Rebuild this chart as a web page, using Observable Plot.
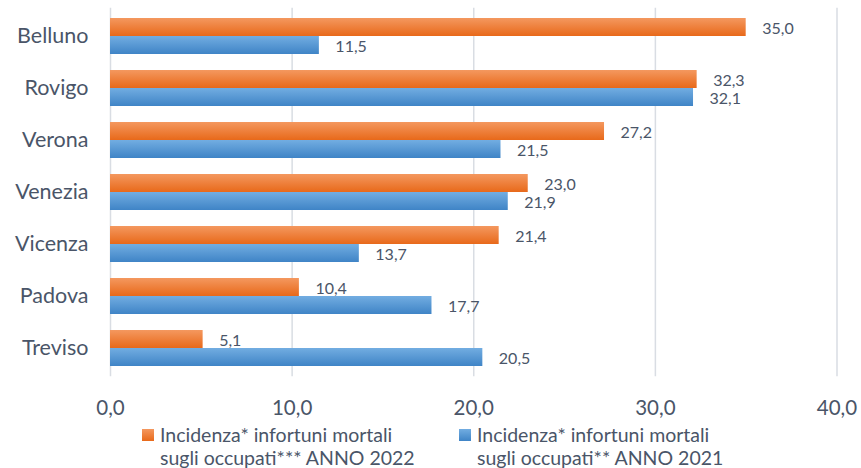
<!DOCTYPE html>
<html>
<head>
<meta charset="utf-8">
<script src="https://cdn.jsdelivr.net/npm/d3@7"></script>
<script src="https://cdn.jsdelivr.net/npm/@observablehq/plot@0.6"></script>
<style>
  html, body { margin: 0; padding: 0; background: #fff; }
  #wrap { position: relative; width: 861px; height: 468px; font-family: Lato, "Open Sans", sans-serif; color: #4a5568; }
  #legend { position: absolute; left: 0; top: 423px; width: 861px; height: 45px; }
  .item { position: absolute; top: 0; display: flex; align-items: flex-start; }
  .sw { width: 12px; height: 12px; margin-top: 6px; margin-right: 6px; flex: none; }
  .lt { font-size: 19.5px; line-height: 23px; white-space: nowrap; }
</style>
</head>
<body>
<div id="wrap">
  <div id="chart"></div>
  <div id="legend"></div>
</div>
<script>
const provinces = ["Belluno", "Rovigo", "Verona", "Venezia", "Vicenza", "Padova", "Treviso"];
const values2022 = [35.0, 32.3, 27.2, 23.0, 21.4, 10.4, 5.1];
const values2021 = [11.5, 32.1, 21.5, 21.9, 13.7, 17.7, 20.5];
const xTicks = [0, 10, 20, 30, 40];
const seriesLabels = [
  ["Incidenza* infortuni mortali", "sugli occupati*** ANNO 2022"],
  ["Incidenza* infortuni mortali", "sugli occupati** ANNO 2021"]
];

const fmt = d => d.toFixed(1).replace(".", ",");
const d2022 = provinces.map((p, i) => ({prov: p, value: values2022[i]}));
const d2021 = provinces.map((p, i) => ({prov: p, value: values2021[i]}));

const textColor = "#4a5568";

function defs() {
  const ns = "http://www.w3.org/2000/svg";
  const d = document.createElementNS(ns, "defs");
  const mk = (id, top, bottom) => {
    const g = document.createElementNS(ns, "linearGradient");
    g.setAttribute("id", id);
    g.setAttribute("x1", "0"); g.setAttribute("y1", "0");
    g.setAttribute("x2", "0"); g.setAttribute("y2", "1");
    [[0, top], [1, bottom]].forEach(([o, c]) => {
      const s = document.createElementNS(ns, "stop");
      s.setAttribute("offset", o);
      s.setAttribute("stop-color", c);
      g.appendChild(s);
    });
    d.appendChild(g);
  };
  mk("gOrange", "#F4985F", "#E8691A");
  mk("gBlue", "#72ADE1", "#3F84C6");
  return d;
}

const H = 423;
const chart = Plot.plot({
  width: 861,
  height: H,
  marginLeft: 110,
  marginRight: 24.5,
  marginTop: 7.7,
  marginBottom: H - 376.3,
  style: { fontFamily: "Lato, 'Open Sans', sans-serif", color: textColor, background: "#fff", overflow: "visible" },
  x: { domain: [0, 40] },
  y: { domain: provinces, paddingInner: 0.317, paddingOuter: 0.158, align: 0.5 },
  marks: [
    defs,
    Plot.ruleX(xTicks, { stroke: "#D9DDE3", strokeWidth: 1.5 }),
    Plot.barX(d2022, { x: "value", y: "prov", fill: "url(#gOrange)", insetBottom: 18 }),
    Plot.barX(d2021, { x: "value", y: "prov", fill: "url(#gBlue)", insetTop: 18 }),
    Plot.text(d2022, { x: "value", y: "prov", text: d => fmt(d.value), dx: 16, dy: -8, textAnchor: "start", fontSize: 16, fill: textColor }),
    Plot.text(d2021, { x: "value", y: "prov", text: d => fmt(d.value), dx: 16, dy: 10, textAnchor: "start", fontSize: 16, fill: textColor }),
    Plot.axisX({ ticks: xTicks, tickFormat: fmt, tickSize: 0, tickPadding: 24, fontSize: 20.5, fill: textColor, label: null }),
    Plot.axisY({ tickSize: 0, tickPadding: 22, fontSize: 21.5, fill: textColor, label: null })
  ]
});
document.getElementById("chart").appendChild(chart);

const legend = document.getElementById("legend");
const items = [
  { left: 142, bg: "linear-gradient(#F4985F, #E8691A)", lines: seriesLabels[0] },
  { left: 459, bg: "linear-gradient(#72ADE1, #3F84C6)", lines: seriesLabels[1] }
];
items.forEach(it => {
  const div = document.createElement("div");
  div.className = "item";
  div.style.left = it.left + "px";
  const sw = document.createElement("div");
  sw.className = "sw";
  sw.style.background = it.bg;
  const lt = document.createElement("div");
  lt.className = "lt";
  lt.innerHTML = it.lines.join("<br>");
  div.appendChild(sw);
  div.appendChild(lt);
  legend.appendChild(div);
});
</script>
</body>
</html>
